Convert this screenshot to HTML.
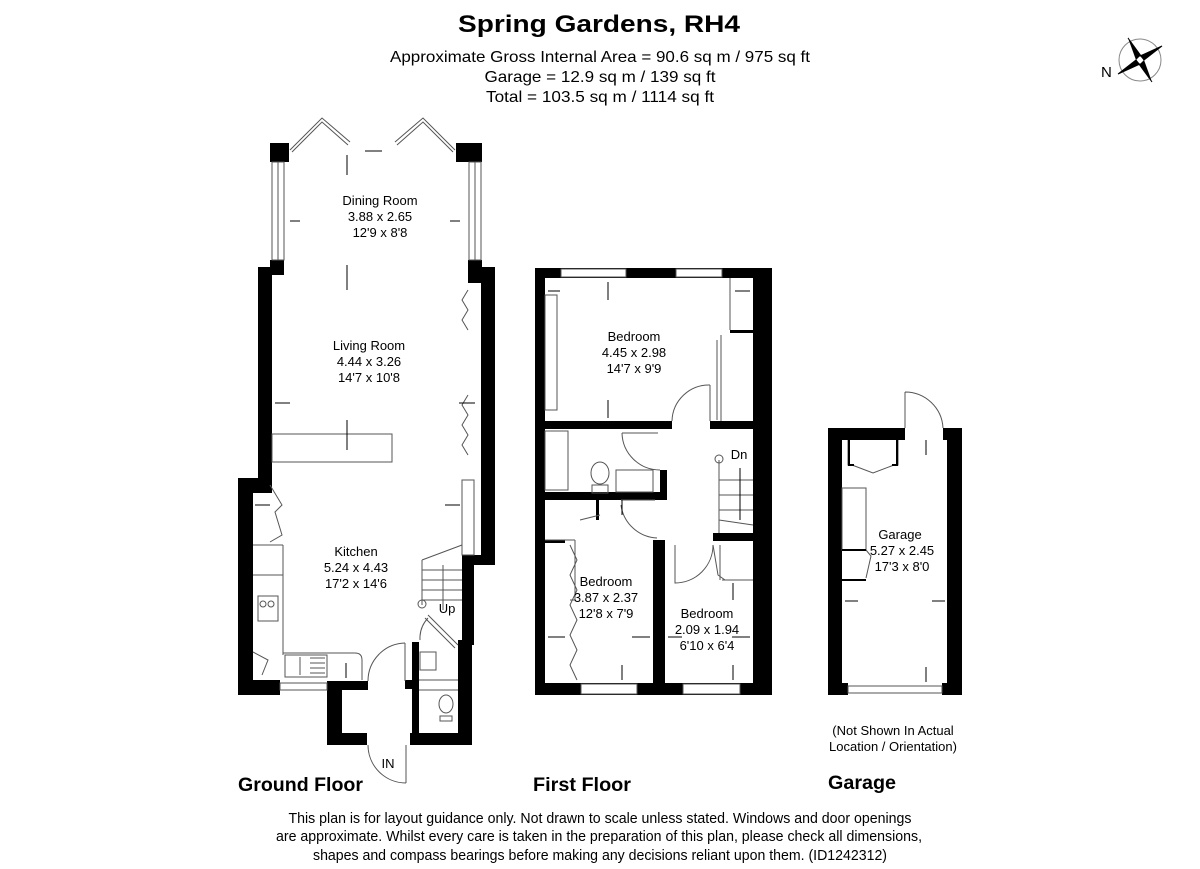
<!DOCTYPE html>
<html><head><meta charset="utf-8"><style>
html,body{margin:0;padding:0;background:#fff;}
svg{display:block;font-family:"Liberation Sans Narrow","Liberation Sans",Arial,sans-serif;}
</style></head><body>
<svg width="1200" height="869" viewBox="0 0 1200 869" xmlns="http://www.w3.org/2000/svg">
<rect width="1200" height="869" fill="#fff"/>
<!-- Header -->
<text x="599" y="32" font-size="24" font-weight="bold" text-anchor="middle" textLength="282" lengthAdjust="spacingAndGlyphs">Spring Gardens, RH4</text>
<text x="600" y="62" font-size="16" text-anchor="middle" textLength="420" lengthAdjust="spacingAndGlyphs">Approximate Gross Internal Area = 90.6 sq m / 975 sq ft</text>
<text x="600" y="82" font-size="16" text-anchor="middle" textLength="231" lengthAdjust="spacingAndGlyphs">Garage = 12.9 sq m / 139 sq ft</text>
<text x="600" y="102" font-size="16" text-anchor="middle" textLength="228" lengthAdjust="spacingAndGlyphs">Total = 103.5 sq m / 1114 sq ft</text>
<!-- compass -->
<g transform="translate(1140,60)">
<circle r="21" fill="none" stroke="#888" stroke-width="1"/>
<polygon points="0,-4 22,-14 4,0" fill="#000"/>
<polygon points="4,0 12,22 0,4" fill="#000"/>
<polygon points="0,4 -22,14 -4,0" fill="#000"/>
<polygon points="-4,0 -12,-22 0,-4" fill="#000"/>
<polygon points="0,-4 -12,-22 4,0 22,-14" fill="none" stroke="#000" stroke-width="1"/>
<polygon points="0,4 12,22 -4,0 -22,14" fill="none" stroke="#000" stroke-width="1"/>
</g>
<text x="1101" y="77" font-size="15" font-family="Liberation Sans">N</text>

<!-- GROUND FLOOR -->
<g fill="#000">
<rect x="270" y="143" width="19" height="19"/>
<rect x="456" y="143" width="26" height="19"/>
<rect x="270" y="260" width="14" height="10"/>
<rect x="468" y="260" width="14" height="10"/>
<rect x="258" y="267" width="26" height="8"/>
<rect x="258" y="267" width="14" height="215"/>
<rect x="468" y="267" width="27" height="16"/>
<rect x="481" y="267" width="14" height="296"/>
<rect x="238" y="478" width="34" height="15"/>
<rect x="238" y="478" width="15" height="217"/>
<rect x="238" y="680" width="42" height="15"/>
<rect x="327" y="681" width="41" height="9"/>
<rect x="327" y="681" width="15" height="64"/>
<rect x="327" y="733" width="40" height="12"/>
<rect x="462" y="555" width="33" height="10"/>
<rect x="462" y="555" width="12" height="90"/>
<rect x="458" y="640" width="14" height="105"/>
<rect x="410" y="733" width="62" height="12"/>
<rect x="412" y="642" width="7" height="103"/>
<rect x="405" y="680" width="14" height="9"/>
</g>
<g fill="none" stroke="#555" stroke-width="1">
<rect x="272" y="162" width="12" height="98"/><line x1="278" y1="162" x2="278" y2="260"/>
<rect x="469" y="162" width="12" height="98"/><line x1="475" y1="162" x2="475" y2="260"/>
<polyline points="290,150 322,118 350,142"/><polyline points="292,152 322,122 348,145"/>
<polyline points="395,142 423,118 455,150"/><polyline points="397,145 423,122 453,152"/>
<rect x="272" y="434" width="120" height="28"/>
<polyline points="468,290 462,300 468,310 462,320 468,330"/>
<polyline points="468,395 462,405 468,415 462,425 468,435 462,445 468,455"/>
<rect x="462" y="480" width="12" height="75"/>
<line x1="253" y1="545" x2="283" y2="545"/>
<line x1="283" y1="545" x2="283" y2="655"/>
<line x1="253" y1="575" x2="283" y2="575"/>
<rect x="258" y="596" width="20" height="25"/>
<circle cx="263" cy="604" r="3"/><circle cx="271" cy="604" r="3"/>
<path d="M283,653 H355 Q362,653 362,660 V680"/>
<rect x="285" y="655" width="42" height="22"/>
<line x1="300" y1="657" x2="300" y2="675"/>
<line x1="310" y1="658" x2="325" y2="658"/><line x1="310" y1="663" x2="325" y2="663"/><line x1="310" y1="668" x2="325" y2="668"/><line x1="310" y1="673" x2="325" y2="673"/>
<rect x="280" y="683" width="47" height="7"/>
<polyline points="270,485 282,505 275,512 282,535 270,542"/>
<polyline points="253,652 268,660 262,675"/>
<path d="M405,643 A38,38 0 0 0 368,681"/><line x1="405" y1="643" x2="405" y2="681"/>
<path d="M368,745 A38,38 0 0 0 406,783"/><line x1="406" y1="745" x2="406" y2="783"/>
<path d="M425,618 L455,648 M428,615 L458,645"/>
<path d="M420,640 A30,30 0 0 1 428,618"/>
<path d="M422,560 L462,545 M422,560 V605 M422,570 H462 M422,580 H462 M422,590 H462 M422,600 H462"/>
<circle cx="422" cy="604" r="4"/>
<line x1="443" y1="610" x2="443" y2="565"/>
<rect x="420" y="652" width="16" height="18"/>
<ellipse cx="446" cy="704" rx="7" ry="9"/>
<rect x="440" y="716" width="12" height="5"/>
<line x1="419" y1="680" x2="458" y2="680"/><line x1="419" y1="690" x2="458" y2="690"/>
</g>
<g stroke="#000" stroke-width="1" fill="#000">
<line x1="347" y1="155" x2="347" y2="175"/><line x1="347" y1="265" x2="347" y2="290"/>
<line x1="347" y1="420" x2="347" y2="450"/><line x1="290" y1="221" x2="300" y2="221"/><line x1="450" y1="221" x2="460" y2="221"/>
<line x1="275" y1="403" x2="290" y2="403"/><line x1="459" y1="403" x2="475" y2="403"/>
<line x1="255" y1="505" x2="270" y2="505"/><line x1="445" y1="505" x2="460" y2="505"/>
<line x1="346" y1="663" x2="346" y2="678"/><line x1="365" y1="151" x2="382" y2="151"/>
</g>
<g font-size="13" text-anchor="middle" font-family="Liberation Sans">
<text x="380" y="205">Dining Room</text><text x="380" y="221">3.88 x 2.65</text><text x="380" y="237">12'9 x 8'8</text>
<text x="369" y="350">Living Room</text><text x="369" y="366">4.44 x 3.26</text><text x="369" y="382">14'7 x 10'8</text>
<text x="356" y="556">Kitchen</text><text x="356" y="572">5.24 x 4.43</text><text x="356" y="588">17'2 x 14'6</text>
<text x="447" y="613">Up</text><text x="388" y="768">IN</text>
</g>

<!-- FIRST FLOOR -->
<g fill="#000">
<rect x="535" y="268" width="237" height="10"/>
<rect x="535" y="268" width="10" height="427"/>
<rect x="753" y="268" width="19" height="427"/>
<rect x="535" y="683" width="237" height="12"/>
<rect x="545" y="421" width="127" height="8"/>
<rect x="710" y="421" width="43" height="8"/>
<rect x="545" y="492" width="120" height="8"/>
<rect x="660" y="470" width="7" height="30"/>
<rect x="653" y="540" width="12" height="155"/>
<rect x="713" y="533" width="40" height="8"/>
<rect x="545" y="540" width="20" height="3"/>
<rect x="730" y="330" width="23" height="3"/>
<rect x="596" y="500" width="3" height="20"/>
</g>
<g fill="#fff" stroke="#555" stroke-width="1">
<rect x="561" y="269" width="65" height="8"/><rect x="676" y="269" width="46" height="8"/>
<rect x="581" y="684" width="56" height="10"/><rect x="683" y="684" width="57" height="10"/>
</g>
<g fill="none" stroke="#555" stroke-width="1">
<rect x="545" y="295" width="12" height="115"/>
<line x1="730" y1="278" x2="730" y2="330"/>
<line x1="721" y1="335" x2="721" y2="421"/><line x1="717" y1="340" x2="717" y2="420"/>
<path d="M710,385 A37,37 0 0 0 672,421"/><line x1="710" y1="385" x2="710" y2="421"/>
<rect x="545" y="431" width="23" height="59"/>
<ellipse cx="600" cy="473" rx="9" ry="11"/><rect x="592" y="485" width="16" height="8"/>
<rect x="616" y="470" width="37" height="22"/>
<path d="M622,433 H658 M622,433 A38,38 0 0 0 660,470"/>
<path d="M621,505 A38,38 0 0 0 657,538"/><line x1="621" y1="500" x2="655" y2="500"/>
<path d="M719,460 V533 M719,480 H753 M719,495 H753 M719,510 H753 M719,520 L753,525"/>
<circle cx="719" cy="459" r="4"/>
<path d="M675,545 V583 A38,38 0 0 0 713,545"/>
<path d="M713,545 L718,575 L725,580"/>
<line x1="722" y1="580" x2="753" y2="580"/><line x1="720" y1="545" x2="720" y2="580"/>
<path d="M545,540 H575 M575,540 V600 H570"/>
<polyline points="570,545 577,560 570,575 577,590 570,605 577,620 570,635 577,650 570,665 577,680"/>
<line x1="580" y1="520" x2="600" y2="515"/>
</g>
<g stroke="#000" fill="#000">
<line x1="608" y1="282" x2="608" y2="300"/><line x1="608" y1="400" x2="608" y2="418"/>
<line x1="548" y1="291" x2="560" y2="291"/><line x1="735" y1="291" x2="750" y2="291"/>
<line x1="740" y1="468" x2="740" y2="520"/><line x1="622" y1="500" x2="622" y2="515"/>
<line x1="548" y1="637" x2="565" y2="637"/><line x1="632" y1="637" x2="650" y2="637"/>
<line x1="622" y1="665" x2="622" y2="680"/><line x1="668" y1="637" x2="682" y2="637"/>
<line x1="732" y1="637" x2="750" y2="637"/><line x1="733" y1="583" x2="733" y2="600"/><line x1="733" y1="665" x2="733" y2="680"/>
</g>
<g font-size="13" text-anchor="middle" font-family="Liberation Sans">
<text x="634" y="341">Bedroom</text><text x="634" y="357">4.45 x 2.98</text><text x="634" y="373">14'7 x 9'9</text>
<text x="606" y="586">Bedroom</text><text x="606" y="602">3.87 x 2.37</text><text x="606" y="618">12'8 x 7'9</text>
<text x="707" y="618">Bedroom</text><text x="707" y="634">2.09 x 1.94</text><text x="707" y="650">6'10 x 6'4</text>
<text x="739" y="459">Dn</text>
</g>

<!-- GARAGE -->
<g fill="#000">
<rect x="828" y="428" width="77" height="12"/>
<rect x="943" y="428" width="19" height="12"/>
<rect x="828" y="428" width="14" height="267"/>
<rect x="947" y="428" width="15" height="267"/>
<rect x="828" y="683" width="20" height="12"/>
<rect x="942" y="683" width="20" height="12"/>
</g>
<g fill="none" stroke="#555" stroke-width="1">
<rect x="848" y="686" width="94" height="7"/>
<path d="M905,392 V428 M905,392 A38,38 0 0 1 943,428"/>
<path d="M848,440 V465 H852 M898,440 V465 H894 M852,465 L873,473 L894,465"/>
<rect x="842" y="488" width="24" height="62"/>
<path d="M866,550 L871,556 L866,578"/>
</g>
<g stroke="#000" stroke-width="2" fill="none">
<path d="M849,440 V465 H854 M897,440 V465 H892"/>
<path d="M842,550 H866 M842,580 H866"/>
</g>
<g stroke="#000" fill="#000">
<line x1="926" y1="440" x2="926" y2="455"/><line x1="845" y1="601" x2="858" y2="601"/>
<line x1="932" y1="601" x2="945" y2="601"/><line x1="926" y1="667" x2="926" y2="682"/>
</g>
<g font-size="13" text-anchor="middle" font-family="Liberation Sans">
<text x="900" y="539">Garage</text><text x="902" y="555">5.27 x 2.45</text><text x="902" y="571">17'3 x 8'0</text>
<text x="893" y="735">(Not Shown In Actual</text><text x="893" y="751">Location / Orientation)</text>
</g>

<!-- labels -->
<g font-size="19" font-weight="bold">
<text x="238" y="791" textLength="125" lengthAdjust="spacingAndGlyphs">Ground Floor</text>
<text x="533" y="791" textLength="98" lengthAdjust="spacingAndGlyphs">First Floor</text>
<text x="828" y="789" textLength="68" lengthAdjust="spacingAndGlyphs">Garage</text>
</g>
<g font-size="15" text-anchor="middle">
<text x="600" y="823" textLength="623" lengthAdjust="spacingAndGlyphs">This plan is for layout guidance only. Not drawn to scale unless stated. Windows and door openings</text>
<text x="599" y="841" textLength="646" lengthAdjust="spacingAndGlyphs">are approximate. Whilst every care is taken in the preparation of this plan, please check all dimensions,</text>
<text x="600" y="860" textLength="574" lengthAdjust="spacingAndGlyphs">shapes and compass bearings before making any decisions reliant upon them. (ID1242312)</text>
</g>
</svg>
</body></html>
